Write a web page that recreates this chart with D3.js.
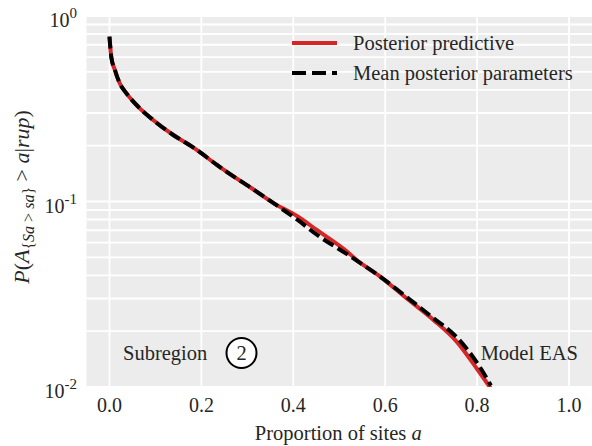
<!DOCTYPE html>
<html>
<head>
<meta charset="utf-8">
<script src="https://cdn.jsdelivr.net/npm/d3@7"></script>
<style>
  body { margin: 0; background: #fff; }
  svg text { font-family: "Liberation Serif", "DejaVu Serif", serif; fill: #262626; }
</style>
</head>
<body>
<svg id="viz"></svg>
<script>
var width = 592;
var height = 446;

// proportion of sites a (x) and exceedance probability (y)
var siteProp = [0, 0.004, 0.012, 0.022, 0.037, 0.066, 0.095, 0.138, 0.182, 0.233, 0.256, 0.307, 0.357, 0.408, 0.452, 0.517, 0.538, 0.589, 0.647, 0.705, 0.756, 0.80, 0.83];
var predictive = [0.775, 0.60, 0.51, 0.435, 0.383, 0.318, 0.275, 0.229, 0.196, 0.158, 0.144, 0.119, 0.098, 0.0835, 0.070, 0.0537, 0.0484, 0.0394, 0.030, 0.023, 0.0175, 0.0125, 0.0098];
var meanParams = [0.775, 0.60, 0.51, 0.435, 0.383, 0.318, 0.275, 0.229, 0.196, 0.158, 0.144, 0.119, 0.098, 0.080, 0.066, 0.052, 0.048, 0.0394, 0.0305, 0.0235, 0.0185, 0.0135, 0.0102];

var xTicks = [0, 0.2, 0.4, 0.6, 0.8, 1.0];
var yDecades = [0, -1, -2];
var legendLabels = ["Posterior predictive", "Mean posterior parameters"];

// plot area (note: "top" is taken by window.top)
var pLeft = 86.5, pRight = 592, pTop = 16, pBottom = 387;

var x = d3.scaleLinear().domain([-0.05, 1.05]).range([pLeft, pRight]);
var y = d3.scaleLog().domain([0.01, 1]).range([pBottom, pTop]);

var svg = d3.select("#viz").attr("width", width).attr("height", height);

// plot background
svg.append("rect")
    .attr("x", pLeft).attr("y", pTop)
    .attr("width", pRight - pLeft).attr("height", pBottom - pTop)
    .attr("fill", "#ececec");

// grid lines: every minor log tick plus the x ticks
var yGrid = [];
yDecades.forEach(function(e) {
    for (var m = 1; m <= 9; m++) {
        var v = m * Math.pow(10, e - 1);
        if (v >= 0.01 && v <= 1) yGrid.push(v);
    }
});
yGrid.push(1);

var grid = svg.append("g").attr("class", "grid");
grid.selectAll("line.h")
    .data(yGrid)
    .enter()
    .append("line")
    .attr("x1", pLeft).attr("x2", pRight)
    .attr("y1", function(d) { return y(d); })
    .attr("y2", function(d) { return y(d); })
    .attr("stroke", "#fff")
    .attr("stroke-width", 1.8);
grid.selectAll("line.v")
    .data(xTicks)
    .enter()
    .append("line")
    .attr("x1", function(d) { return x(d); })
    .attr("x2", function(d) { return x(d); })
    .attr("y1", pTop).attr("y2", pBottom)
    .attr("stroke", "#fff")
    .attr("stroke-width", 1.8);

// curves, clipped to the plot area
svg.append("clipPath").attr("id", "clip")
    .append("rect")
    .attr("x", pLeft).attr("y", pTop)
    .attr("width", pRight - pLeft).attr("height", pBottom - pTop);

var line = d3.line()
    .x(function(d) { return x(d[0]); })
    .y(function(d) { return y(d[1]); })
    .curve(d3.curveMonotoneX);

var curves = svg.append("g").attr("clip-path", "url(#clip)");
curves.append("path")
    .datum(d3.zip(siteProp, predictive))
    .attr("d", line)
    .attr("fill", "none")
    .attr("stroke", "#d62728")
    .attr("stroke-width", 4);
curves.append("path")
    .datum(d3.zip(siteProp, meanParams))
    .attr("d", line)
    .attr("fill", "none")
    .attr("stroke", "#000")
    .attr("stroke-width", 4)
    .attr("stroke-dasharray", "12,5");

// x axis tick labels
svg.append("g")
    .selectAll("text")
    .data(xTicks)
    .enter()
    .append("text")
    .attr("x", function(d) { return x(d); })
    .attr("y", 412)
    .attr("text-anchor", "middle")
    .style("font-size", "20px")
    .text(function(d) { return d.toFixed(1); });

// y axis tick labels (10^e)
var yLab = svg.append("g")
    .selectAll("text")
    .data(yDecades)
    .enter()
    .append("text")
    .attr("x", 77)
    .attr("y", function(e) { return y(Math.pow(10, e)) + 11; })
    .attr("text-anchor", "end")
    .style("font-size", "20px");
yLab.append("tspan").text("10");
yLab.append("tspan")
    .attr("dy", -9)
    .style("font-size", "15px")
    .text(function(e) { return e; });

// axis titles
var xTitle = svg.append("text")
    .attr("x", (pLeft + pRight) / 2 - 1)
    .attr("y", 440)
    .attr("text-anchor", "middle")
    .style("font-size", "20.5px");
xTitle.append("tspan").text("Proportion of sites ");
xTitle.append("tspan").style("font-style", "italic").text("a");

var yTitle = svg.append("text")
    .attr("transform", "translate(29,197) rotate(-90)")
    .attr("text-anchor", "middle")
    .style("font-size", "22px");
yTitle.append("tspan").style("font-style", "italic").text("P");
yTitle.append("tspan").text("(");
yTitle.append("tspan").style("font-style", "italic").text("A");
yTitle.append("tspan").attr("dy", 5).style("font-size", "16px").text("{");
yTitle.append("tspan").style("font-size", "16px").style("font-style", "italic").text("Sa");
yTitle.append("tspan").style("font-size", "16px").text(" > ");
yTitle.append("tspan").style("font-size", "16px").style("font-style", "italic").text("sa");
yTitle.append("tspan").style("font-size", "16px").text("}");
yTitle.append("tspan").attr("dy", -5).text(" > ");
yTitle.append("tspan").style("font-style", "italic").text("a");
yTitle.append("tspan").text("|");
yTitle.append("tspan").style("font-style", "italic").text("rup");
yTitle.append("tspan").text(")");

// legend
var legend = svg.append("g").selectAll("g")
    .data(legendLabels)
    .enter()
    .append("g")
    .attr("transform", function(d, i) { return "translate(292," + (43 + i * 30) + ")"; });
legend.append("line")
    .attr("x1", 0).attr("x2", 45)
    .attr("stroke", function(d, i) { return i == 0 ? "#d62728" : "#000"; })
    .attr("stroke-width", 4)
    .attr("stroke-dasharray", function(d, i) { return i == 0 ? null : "14,6"; });
legend.append("text")
    .attr("x", 61)
    .attr("y", 7)
    .style("font-size", "20.5px")
    .text(function(d) { return d; });

// annotations
svg.append("text")
    .attr("x", 123).attr("y", 360)
    .style("font-size", "20.5px")
    .text("Subregion");
svg.append("circle")
    .attr("cx", 241.5).attr("cy", 353)
    .attr("r", 15)
    .attr("fill", "#fff")
    .attr("stroke", "#000")
    .attr("stroke-width", 2);
svg.append("text")
    .attr("x", 241.5).attr("y", 360)
    .attr("text-anchor", "middle")
    .style("font-size", "20.5px")
    .text("2");
svg.append("text")
    .attr("x", 578).attr("y", 360)
    .attr("text-anchor", "end")
    .style("font-size", "20.5px")
    .text("Model EAS");
</script>
</body>
</html>
